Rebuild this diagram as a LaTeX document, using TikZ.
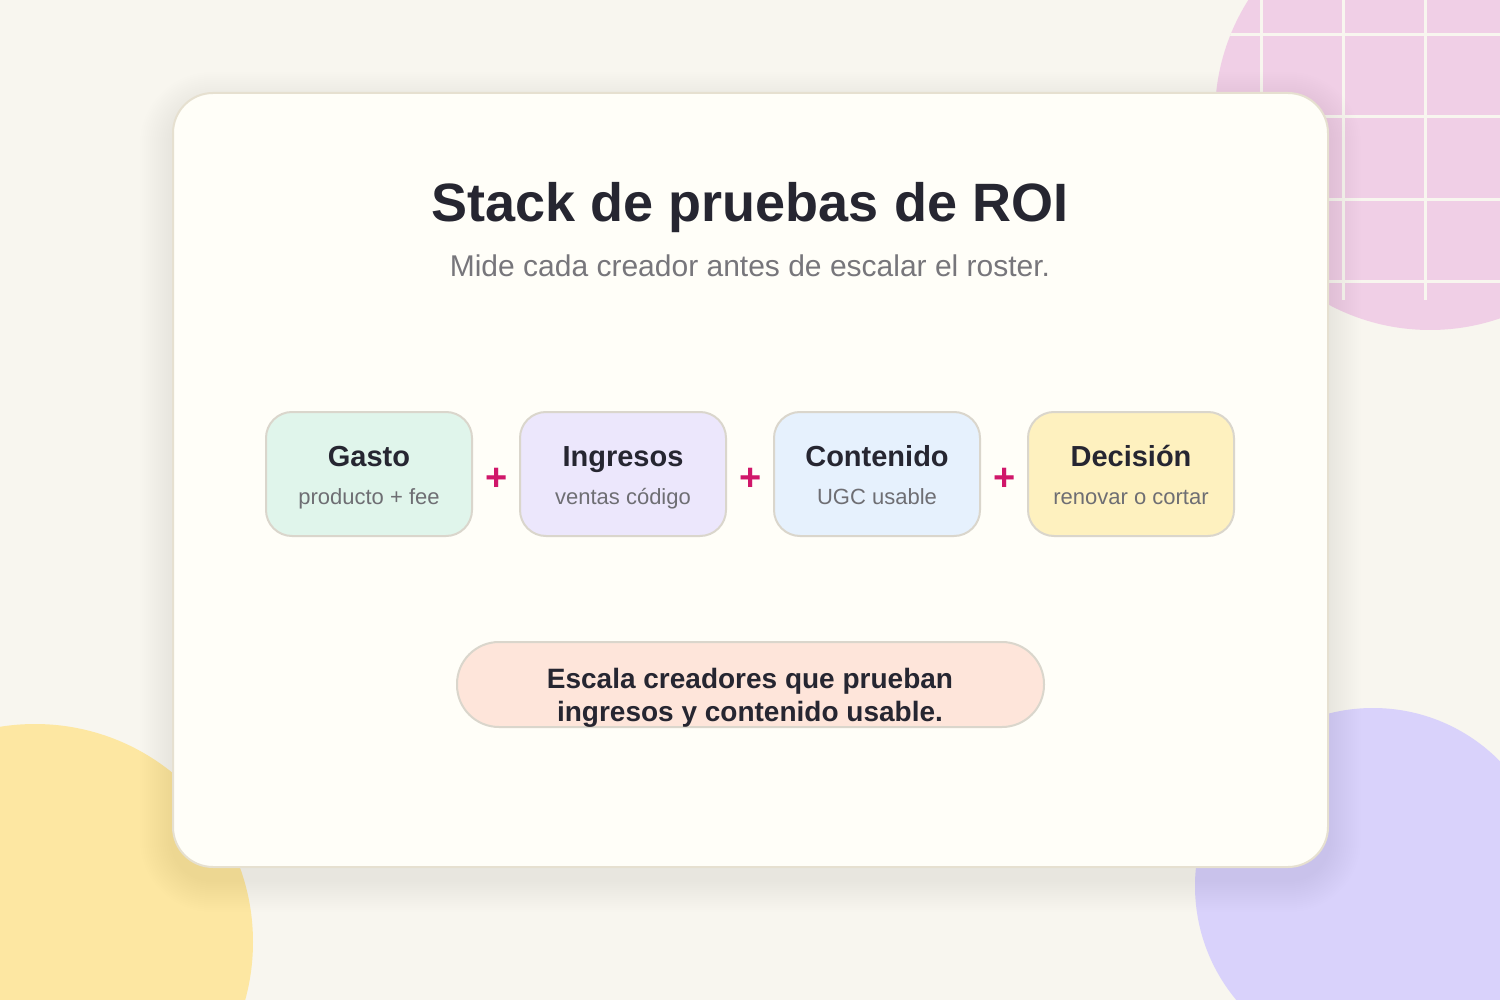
\documentclass[tikz,border=0pt]{standalone}
\usepackage{fontspec}
\setmainfont{Liberation Sans}
\usetikzlibrary{positioning,calc}

\definecolor{bgcream}{HTML}{F8F6EF}
\definecolor{cardfill}{HTML}{FFFEF8}
\definecolor{cardline}{HTML}{E6E0D0}
\definecolor{shadowtone}{HTML}{5E5030}
\definecolor{boxline}{HTML}{DAD6CC}
\definecolor{inkdark}{HTML}{262631}
\definecolor{inkgray}{HTML}{77767B}
\definecolor{subgray}{HTML}{6E6E73}
\definecolor{plusred}{HTML}{D0176A}
\definecolor{mint}{HTML}{E0F5EB}
\definecolor{lilac}{HTML}{ECE7FC}
\definecolor{skyblue}{HTML}{E6F1FD}
\definecolor{butter}{HTML}{FEF1BF}
\definecolor{peach}{HTML}{FEE5DA}
\definecolor{pinkdot}{HTML}{F0CFE6}
\definecolor{violetdot}{HTML}{D9D2FB}
\definecolor{yellowdot}{HTML}{FDE7A2}

\tikzstyle{card} = [rectangle, draw=cardline, fill=cardfill, line width=2pt, rounded corners=40pt, minimum width=1155pt, minimum height=774pt]
\tikzstyle{block} = [rectangle, draw=boxline, line width=2pt, rounded corners=26pt, minimum width=206pt, minimum height=124pt, align=center, text=inkdark, text height=66pt, text depth=5pt, font=\fontsize{22}{38}\selectfont]
\tikzstyle{plus} = [text=plusred, font=\fontsize{38}{38}\selectfont\bfseries, inner sep=0pt]
\tikzstyle{pill} = [rectangle, draw=boxline, line width=2pt, rounded corners=42pt, fill=peach, minimum width=587pt, minimum height=85pt]
\tikzstyle{gridline} = [draw=bgcream, line width=3pt]

\begin{document}
\begin{tikzpicture}[x=1pt, y=-1pt]

	% background and corner dots
	\fill[bgcream] (0,0) rectangle (1500,1000);
	\useasboundingbox (0,0) rectangle (1500,1000);
	\fill[pinkdot] (1430,115) circle (215pt);
	\fill[violetdot] (1373,886) circle (178pt);
	\fill[yellowdot] (35,942) circle (218pt);
	\begin{scope}
		\clip (1430,115) circle (215pt);
		\foreach \gx in {1261,1343,1425}
			\draw[gridline] (\gx,0) -- (\gx,300);
		\foreach \gy in {35,117,200,282}
			\draw[gridline] (1210,\gy) -- (1500,\gy);
	\end{scope}

	% soft shadow under the card
	\foreach \s in {2,4,...,32}
		\fill[shadowtone, opacity=0.0045, rounded corners=40+\s] (172-\s,104-\s) rectangle (1329+\s,880+\s);

	\node (panel) [card] at (750.5,480) {};

	\node (titulo) [anchor=base, text=inkdark, font=\fontsize{54}{60}\selectfont\bfseries] at (750,222) {Stack de pruebas de ROI};
	\node (subtitulo) [anchor=base, text=inkgray, font=\fontsize{30}{36}\selectfont] at (750,277) {Mide cada creador antes de escalar el roster.};

	\node (gasto) [block, fill=mint] at (369,474) {{\fontsize{29}{38}\selectfont\bfseries Gasto}\\{\color{subgray}producto + fee}};
	\node (ingresos) [block, fill=lilac, right=46pt of gasto] {{\fontsize{29}{38}\selectfont\bfseries Ingresos}\\{\color{subgray}ventas código}};
	\node (contenido) [block, fill=skyblue, right=46pt of ingresos] {{\fontsize{29}{38}\selectfont\bfseries Contenido}\\{\color{subgray}UGC usable}};
	\node (decision) [block, fill=butter, right=46pt of contenido] {{\fontsize{29}{38}\selectfont\bfseries Decisión}\\{\color{subgray}renovar o cortar}};

	\node (plusa) [plus] at ($(gasto.east)!0.5!(ingresos.west)+(1,5)$) {+};
	\node (plusb) [plus] at ($(ingresos.east)!0.5!(contenido.west)+(1,5)$) {+};
	\node (plusc) [plus] at ($(contenido.east)!0.5!(decision.west)+(1,5)$) {+};

	\node (escala) [pill] at (750.5,684.5) {};
	\node (escalatxt) [align=center, text=inkdark, font=\fontsize{28}{33}\selectfont\bfseries] at (750,698) {Escala creadores que prueban\\ingresos y contenido usable.};

\end{tikzpicture}
\end{document}
